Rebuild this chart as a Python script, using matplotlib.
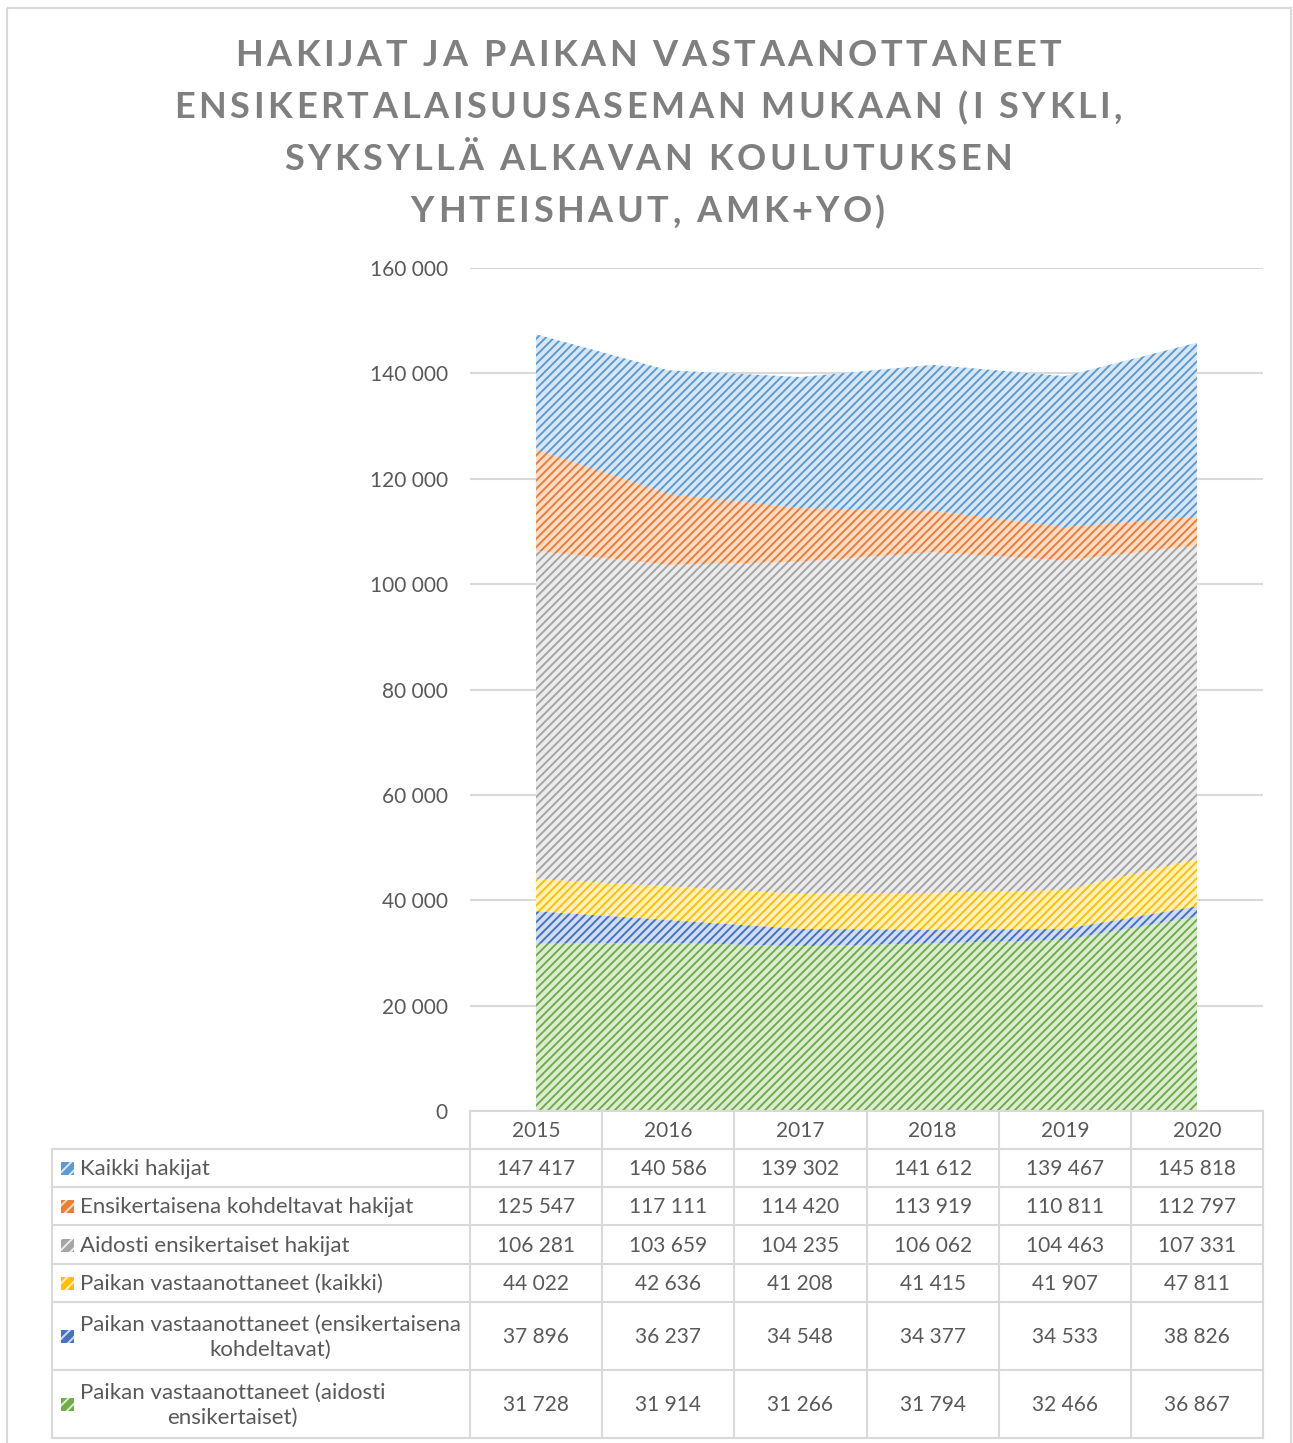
import matplotlib
matplotlib.use("Agg")
import matplotlib.pyplot as plt
from matplotlib.patches import Rectangle
from matplotlib.font_manager import FontProperties

plt.rcParams['font.family'] = ['Lato', 'DejaVu Sans']
plt.rcParams['hatch.linewidth'] = 1.4

# data
years = ['2015', '2016', '2017', '2018', '2019', '2020']
series_names = [
    'Kaikki hakijat',
    'Ensikertaisena kohdeltavat hakijat',
    'Aidosti ensikertaiset hakijat',
    'Paikan vastaanottaneet (kaikki)',
    'Paikan vastaanottaneet (ensikertaisena\nkohdeltavat)',
    'Paikan vastaanottaneet (aidosti\nensikertaiset)',
]
kaikki_hakijat = [147417, 140586, 139302, 141612, 139467, 145818]
ensik_kohdeltavat = [125547, 117111, 114420, 113919, 110811, 112797]
aidosti_ensik = [106281, 103659, 104235, 106062, 104463, 107331]
paikka_kaikki = [44022, 42636, 41208, 41415, 41907, 47811]
paikka_ensik_kohd = [37896, 36237, 34548, 34377, 34533, 38826]
paikka_aidosti = [31728, 31914, 31266, 31794, 32466, 36867]
all_series = [kaikki_hakijat, ensik_kohdeltavat, aidosti_ensik,
              paikka_kaikki, paikka_ensik_kohd, paikka_aidosti]

title_lines = ['HAKIJAT JA PAIKAN VASTAANOTTANEET',
               'ENSIKERTALAISUUSASEMAN MUKAAN (I SYKLI,',
               'SYKSYLLÄ ALKAVAN KOULUTUKSEN',
               'YHTEISHAUT, AMK+YO)']

# styles (fill, hatch colour)
fills = ['#d9e7f5', '#fbdcc8', '#ececec', '#fff0c2', '#d2ddf1', '#dcecd2']
hatches = ['#5b9bd5', '#ed7d31', '#a5a5a5', '#ffc000', '#4472c4', '#70ad47']
txt = '#595959'
title_c = '#7f7f7f'
grid_c = '#d9d9d9'

W, H = 1293, 1443
fig = plt.figure(figsize=(W / 100, H / 100), dpi=100)

# main plot area (pixel positions from the reference)
L, R, T, B = 470, 1263, 268, 1111
ax = fig.add_axes([L / W, 1 - B / H, (R - L) / W, (B - T) / H])
x = list(range(len(years)))
for i, vals in enumerate(all_series):
    ax.fill_between(x, 0, vals, facecolor=fills[i], edgecolor=hatches[i],
                    hatch='////', linewidth=0, zorder=2 + i)
ax.set_xlim(-0.5, 5.5)
ax.set_ylim(0, 160000)
ax.set_yticks(range(0, 160001, 20000))
ax.set_yticklabels([f'{v:,}'.replace(',', ' ') for v in range(0, 160001, 20000)],
                   fontsize=15, color=txt)
ax.set_xticks([])
ax.tick_params(axis='y', length=0, pad=16)
ax.grid(axis='y', color=grid_c, linewidth=1.5, zorder=0)
ax.set_axisbelow(True)
for s in ax.spines.values():
    s.set_visible(False)

# overlay in pixel coordinates for title, table and border
ov = fig.add_axes([0, 0, 1, 1], facecolor='none')
ov.set_xlim(0, W)
ov.set_ylim(H, 0)
ov.axis('off')

ov.add_patch(Rectangle((7, 8), 1284, H, fill=False, edgecolor=grid_c, linewidth=1.5))

# title with letter spacing
renderer = fig.canvas.get_renderer()
tprop = FontProperties(family='Lato', weight='bold', size=26)
spacing = 3.6
for line, yc in zip(title_lines, [56, 108, 159, 212]):
    ref = renderer.get_text_width_height_descent('H', tprop, ismath=False)[0]
    adv = [renderer.get_text_width_height_descent(line[:k] + 'H', tprop, ismath=False)[0] - ref
           for k in range(len(line) + 1)]
    total = adv[-1] + spacing * (len(line) - 1)
    x0 = 648 - total / 2
    for k, ch in enumerate(line):
        ov.text(x0 + adv[k] + spacing * k, yc, ch, fontproperties=tprop, color=title_c,
                ha='left', va='center')

# data table
col_edges = [L + k * (R - L) / 6 for k in range(7)]
row_edges = [1111, 1149, 1187, 1225, 1264, 1302, 1370, 1438]
lw = 1.5
ov.plot([L, R], [row_edges[0], row_edges[0]], color=grid_c, lw=lw)
for yy in row_edges[1:]:
    ov.plot([52, R], [yy, yy], color=grid_c, lw=lw)
for xx in col_edges:
    ov.plot([xx, xx], [row_edges[0], row_edges[-1]], color=grid_c, lw=lw)
ov.plot([52, 52], [row_edges[1], row_edges[-1]], color=grid_c, lw=lw)

for k, yr in enumerate(years):
    xc = (col_edges[k] + col_edges[k + 1]) / 2
    ov.text(xc, (row_edges[0] + row_edges[1]) / 2 + 1, yr, fontsize=15, color=txt,
            ha='center', va='center')

for i, (name, vals) in enumerate(zip(series_names, all_series)):
    yc = (row_edges[i + 1] + row_edges[i + 2]) / 2 + 1
    ov.add_patch(Rectangle((61, yc - 7), 13, 13, facecolor=hatches[i], edgecolor=fills[i],
                           hatch='///', linewidth=0))
    ov.text(80, yc, name, fontsize=16, color=txt, ha='left', va='center',
            multialignment='center', linespacing=1.3)
    for k, v in enumerate(vals):
        xc = (col_edges[k] + col_edges[k + 1]) / 2
        ov.text(xc, yc, f'{v:,}'.replace(',', ' '), fontsize=15, color=txt,
                ha='center', va='center')

fig.savefig('out.png', dpi=100, facecolor='white')
